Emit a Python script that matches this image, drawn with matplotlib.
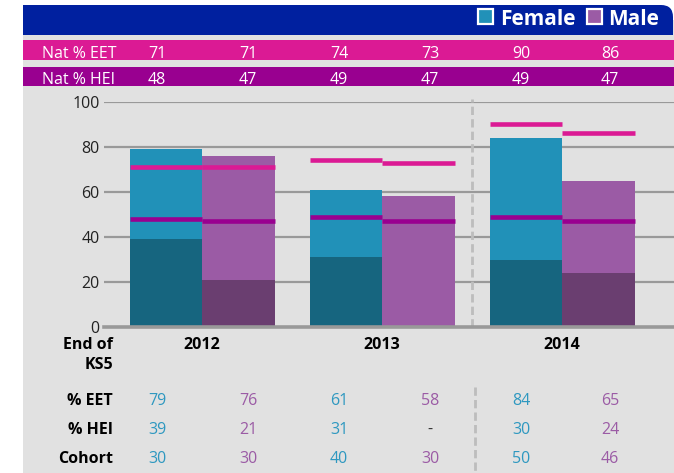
import matplotlib
matplotlib.use("Agg")
import matplotlib.pyplot as plt
from matplotlib.patches import Rectangle, FancyBboxPatch
from matplotlib.transforms import Affine2D
import numpy as np

plt.rcParams['font.family'] = ['Open Sans', 'DejaVu Sans']

# data
years = ["2012", "2013", "2014"]
female_eet = [79, 61, 84]
male_eet = [76, 58, 65]
female_hei = [39, 31, 30]
male_hei = [21, None, 24]
female_cohort = [30, 40, 50]
male_cohort = [30, 30, 46]
nat_eet_female = [71, 74, 90]
nat_eet_male = [71, 73, 86]
nat_hei_female = [48, 49, 49]
nat_hei_male = [47, 47, 47]

# colours
BLUE = "#00209f"
PINK = "#db1a94"
PURPLE = "#990090"
BG = "#e1e1e1"
F_LIGHT = "#2191b8"
F_DARK = "#16657f"
M_LIGHT = "#9b5ba5"
M_DARK = "#6a3e70"
F_TEXT = "#2e98c0"
M_TEXT = "#9b5ba5"
GRID = "#999999"

W, H = 674, 473
fig = plt.figure(figsize=(W / 100, H / 100), dpi=100)
fig.patch.set_facecolor("white")
# pixel coords with origin top-left
pxT = Affine2D().scale(1 / W, -1 / H).translate(0, 1) + fig.transFigure


def rect(x, y, w, h, color, **kw):
    fig.add_artist(Rectangle((x, y), w, h, transform=pxT, facecolor=color,
                             edgecolor="none", zorder=-5, **kw))


def txt(x, y, s, **kw):
    fig.text(x, y, s, transform=pxT, **kw)


# grey panel and header band
rect(23, 20, 651, 453, BG)
fig.add_artist(FancyBboxPatch((23, 5), 650, 30, boxstyle="round,pad=0,rounding_size=12",
                              transform=pxT, facecolor=BLUE, edgecolor="none", zorder=-5))
rect(23, 5, 600, 30, BLUE)
rect(23, 20, 650, 15, BLUE)

# legend in header
fig.add_artist(Rectangle((478, 9), 15, 15, transform=pxT, facecolor=F_LIGHT,
                         edgecolor="white", lw=1.6))
txt(500, 25, "Female", color="white", fontsize=15, fontweight="bold", va="baseline")
fig.add_artist(Rectangle((587, 9), 15, 15, transform=pxT, facecolor=M_LIGHT,
                         edgecolor="white", lw=1.6))
txt(608, 25, "Male", color="white", fontsize=15, fontweight="bold", va="baseline")

# national rows
col_x = [157, 248, 339, 430, 521, 610]


def interleave(a, b):
    out = []
    for p, q in zip(a, b):
        out += [p, q]
    return out


rect(23, 40, 651, 20, PINK)
rect(23, 67, 651, 19, PURPLE)
txt(42, 57.5, "Nat % EET", color="white", fontsize=11.5, va="baseline")
txt(42, 83.5, "Nat % HEI", color="white", fontsize=11.5, va="baseline")
for x, v in zip(col_x, interleave(nat_eet_female, nat_eet_male)):
    txt(x, 57.5, str(v), color="white", fontsize=11.5, va="baseline", ha="center")
for x, v in zip(col_x, interleave(nat_hei_female, nat_hei_male)):
    txt(x, 83.5, str(v), color="white", fontsize=11.5, va="baseline", ha="center")

# chart
ax = fig.add_axes([104 / W, (H - 327) / H, (674 - 104) / W, (327 - 102) / H])
ax.patch.set_visible(False)
groups = np.arange(len(years))
w = 72.5 / 180
xf = groups - w / 2
xm = groups + w / 2

for t in range(20, 101, 20):
    ax.axhline(t, color=GRID, lw=1.6, zorder=0)
ax.axhline(0, color=GRID, lw=2.6, zorder=5, clip_on=False)

ax.bar(xf, female_eet, w, color=F_LIGHT, zorder=2)
ax.bar(xm, male_eet, w, color=M_LIGHT, zorder=2)
ax.bar(xf, female_hei, w, color=F_DARK, zorder=3)
mh = [(x, v) for x, v in zip(xm, male_hei) if v is not None]
ax.bar([p[0] for p in mh], [p[1] for p in mh], w, color=M_DARK, zorder=3)

ax.hlines(nat_eet_female, xf - w / 2, xf + w / 2, colors=PINK, lw=3.3, zorder=4)
ax.hlines(nat_eet_male, xm - w / 2, xm + w / 2, colors=PINK, lw=3.3, zorder=4)
ax.hlines(nat_hei_female, xf - w / 2, xf + w / 2, colors=PURPLE, lw=3.3, zorder=4)
ax.hlines(nat_hei_male, xm - w / 2, xm + w / 2, colors=PURPLE, lw=3.3, zorder=4)

ax.plot([1.5, 1.5], [0, 101.3], color="#bdbdbd", lw=2, ls=(0, (3, 1.5)),
        zorder=1, clip_on=False)

ax.set_xlim(-98 / 180, 472 / 180)
ax.set_ylim(0, 100)
ax.set_yticks(range(0, 101, 20))
ax.set_yticklabels([str(t) for t in range(0, 101, 20)], fontsize=11.5, color="#222222")
ax.tick_params(axis="y", length=0, pad=3)
ax.set_xticks([])
for s in ax.spines.values():
    s.set_visible(False)

# labels under the chart
for g, y in zip(groups, years):
    txt(202 + 180 * g, 349, y, fontsize=11.5, fontweight="bold", ha="center", va="baseline")
txt(113, 349, "End of", fontsize=11.5, fontweight="bold", ha="right", va="baseline")
txt(113, 369, "KS5", fontsize=11.5, fontweight="bold", ha="right", va="baseline")

rows = [
    ("% EET", 404.5, female_eet, male_eet),
    ("% HEI", 434, female_hei, male_hei),
    ("Cohort", 463, female_cohort, male_cohort),
]
for label, yb, fv, mv in rows:
    txt(113, yb, label, fontsize=11.5, fontweight="bold", ha="right", va="baseline")
    vals = interleave(fv, mv)
    for i, (x, v) in enumerate(zip(col_x, vals)):
        if v is None:
            txt(x, yb, "-", fontsize=11.5, color="#333333", ha="center", va="baseline")
        else:
            txt(x, yb, str(v), fontsize=11.5, color=F_TEXT if i % 2 == 0 else M_TEXT,
                ha="center", va="baseline")

fig.add_artist(plt.Line2D([475 / W, 475 / W], [1 - 387 / H, 0], transform=fig.transFigure,
                          color="#bdbdbd", lw=2, ls=(0, (3, 1.5))))

fig.savefig("out.png", dpi=100)
